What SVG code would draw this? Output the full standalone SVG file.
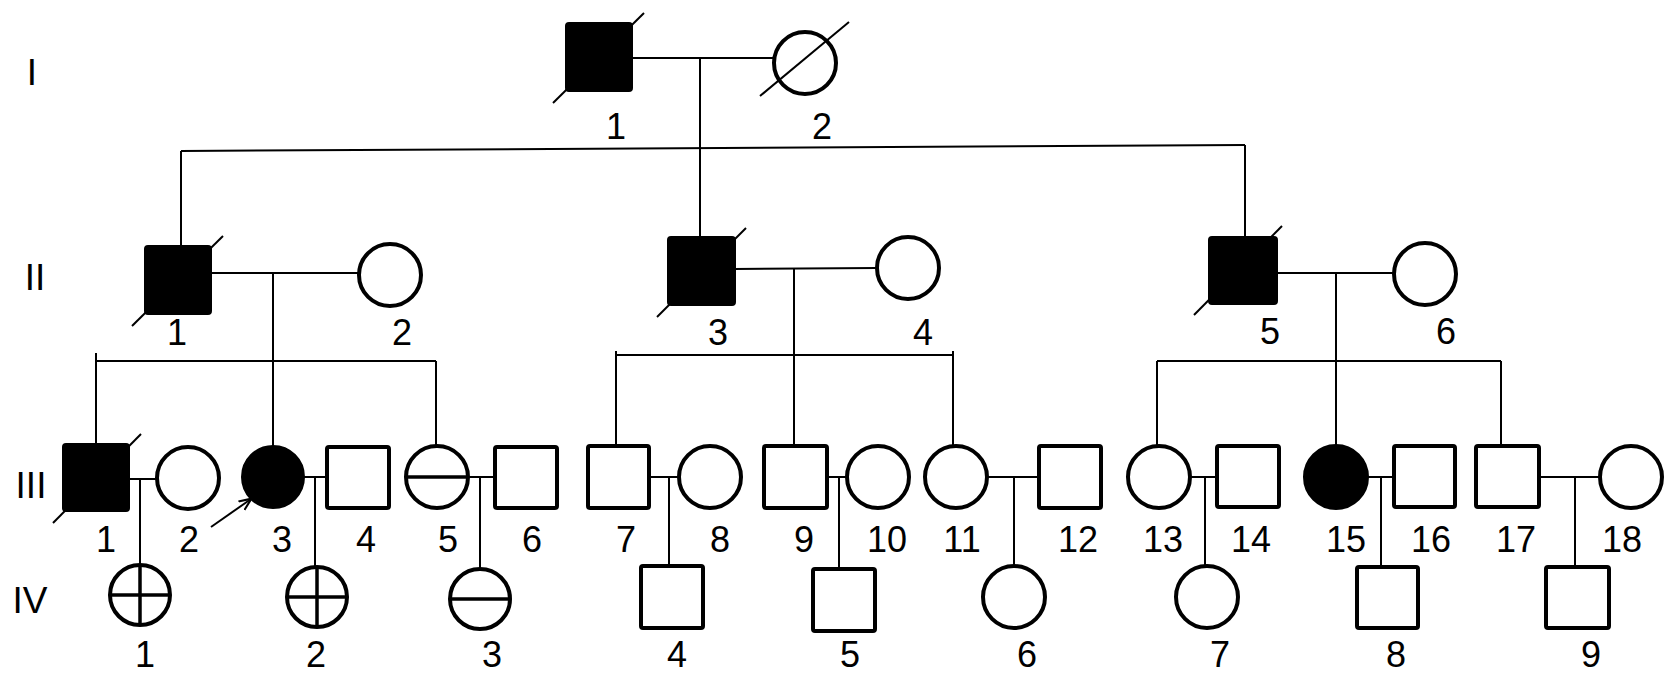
<svg xmlns="http://www.w3.org/2000/svg" width="1677" height="679" viewBox="0 0 1677 679">
<style>
.sym{fill:#fff;stroke:#000;stroke-width:4}
.aff{fill:#000;stroke:#000;stroke-width:4}
.ln{stroke:#000;stroke-width:2;fill:none}
.dead{stroke:#000;stroke-width:2}
.mk{stroke:#000;stroke-width:3.5}
.lbl{font-family:"Liberation Sans",Arial,sans-serif;font-size:36px;text-anchor:middle;fill:#000}
.gen{font-family:"Liberation Sans",Arial,sans-serif;font-size:37px;text-anchor:middle;fill:#000}
</style>
<defs>
<marker id="ah" viewBox="0 0 10 10" refX="9" refY="5" markerWidth="13" markerHeight="13" orient="auto" markerUnits="userSpaceOnUse">
<path d="M0,1 L9.5,5 L0,9" fill="none" stroke="#000" stroke-width="1.6"/>
</marker>
</defs>
<rect width="1677" height="679" fill="#fff"/>
<g id="generations">
<text class="gen" x="32" y="85">I</text>
<text class="gen" x="35" y="290">II</text>
<text class="gen" x="31" y="498">III</text>
<text class="gen" x="30" y="613">IV</text>
</g>
<g id="connectors">
<line class="ln" x1="631" y1="58" x2="774" y2="58"/>
<line class="ln" x1="700" y1="58" x2="700" y2="238"/>
<line class="ln" x1="181" y1="151" x2="1245" y2="145"/>
<line class="ln" x1="181" y1="151" x2="181" y2="247"/>
<line class="ln" x1="1245" y1="145" x2="1245" y2="238"/>
<line class="ln" x1="210" y1="273" x2="359" y2="273"/>
<line class="ln" x1="273" y1="273" x2="273" y2="446"/>
<line class="ln" x1="734" y1="269" x2="877" y2="268"/>
<line class="ln" x1="794" y1="269" x2="794" y2="446"/>
<line class="ln" x1="1276" y1="273" x2="1394" y2="273"/>
<line class="ln" x1="1336" y1="273" x2="1336" y2="446"/>
<line class="ln" x1="96" y1="361" x2="436" y2="361"/>
<line class="ln" x1="96" y1="353" x2="96" y2="445"/>
<line class="ln" x1="436" y1="361" x2="436" y2="447"/>
<line class="ln" x1="616" y1="355" x2="953" y2="355"/>
<line class="ln" x1="616" y1="351" x2="616" y2="446"/>
<line class="ln" x1="953" y1="351" x2="953" y2="446"/>
<line class="ln" x1="1157" y1="361" x2="1501" y2="361"/>
<line class="ln" x1="1157" y1="361" x2="1157" y2="446"/>
<line class="ln" x1="1501" y1="361" x2="1501" y2="446"/>
<line class="ln" x1="128" y1="479" x2="157" y2="479"/>
<line class="ln" x1="140" y1="479" x2="140" y2="565"/>
<line class="ln" x1="304" y1="477" x2="327" y2="477"/>
<line class="ln" x1="315" y1="477" x2="315" y2="567"/>
<line class="ln" x1="468" y1="477" x2="495" y2="477"/>
<line class="ln" x1="480" y1="477" x2="480" y2="569"/>
<line class="ln" x1="649" y1="477" x2="679" y2="477"/>
<line class="ln" x1="669" y1="477" x2="669" y2="566"/>
<line class="ln" x1="827" y1="477" x2="847" y2="477"/>
<line class="ln" x1="839" y1="477" x2="839" y2="569"/>
<line class="ln" x1="987" y1="477" x2="1039" y2="477"/>
<line class="ln" x1="1014" y1="477" x2="1014" y2="566"/>
<line class="ln" x1="1190" y1="477" x2="1217" y2="477"/>
<line class="ln" x1="1205" y1="477" x2="1205" y2="567"/>
<line class="ln" x1="1367" y1="477" x2="1394" y2="477"/>
<line class="ln" x1="1381" y1="477" x2="1381" y2="567"/>
<line class="ln" x1="1539" y1="477" x2="1600" y2="477"/>
<line class="ln" x1="1575" y1="477" x2="1575" y2="567"/>
<line class="ln" x1="211" y1="527" x2="251" y2="499" marker-end="url(#ah)"/>
</g>
<g id="I-1"><line class="dead" x1="553" y1="103" x2="644" y2="13"/><rect class="aff" x="567" y="24" width="64" height="66" rx="2"/><text class="lbl" x="616" y="139">1</text></g>
<g id="I-2"><circle class="sym" cx="805" cy="63" r="31"/><line class="dead" x1="760" y1="96" x2="849" y2="22"/><text class="lbl" x="822" y="139">2</text></g>
<g id="II-1"><line class="dead" x1="132" y1="326" x2="223" y2="236"/><rect class="aff" x="146" y="247" width="64" height="66" rx="2"/><text class="lbl" x="177" y="345">1</text></g>
<g id="II-2"><circle class="sym" cx="390" cy="275" r="31"/><text class="lbl" x="402" y="345">2</text></g>
<g id="II-3"><line class="dead" x1="657" y1="317" x2="746" y2="228"/><rect class="aff" x="669" y="238" width="65" height="66" rx="2"/><text class="lbl" x="718" y="345">3</text></g>
<g id="II-4"><circle class="sym" cx="908" cy="268" r="31"/><text class="lbl" x="923" y="345">4</text></g>
<g id="II-5"><line class="dead" x1="1194" y1="315" x2="1282" y2="226"/><rect class="aff" x="1210" y="238" width="66" height="65" rx="2"/><text class="lbl" x="1270" y="344">5</text></g>
<g id="II-6"><circle class="sym" cx="1425" cy="274" r="31"/><text class="lbl" x="1446" y="344">6</text></g>
<g id="III-1"><line class="dead" x1="53" y1="523" x2="141" y2="434"/><rect class="aff" x="64" y="445" width="64" height="65" rx="2"/><text class="lbl" x="106" y="552">1</text></g>
<g id="III-2"><circle class="sym" cx="188" cy="478" r="31"/><text class="lbl" x="189" y="552">2</text></g>
<g id="III-3"><circle class="aff" cx="273" cy="477" r="30"/><text class="lbl" x="282" y="552">3</text></g>
<g id="III-4"><rect class="sym" x="327" y="447" width="62" height="61" rx="2"/><text class="lbl" x="366" y="552">4</text></g>
<g id="III-5"><circle class="sym" cx="437" cy="477" r="31"/><line class="mk" x1="406" y1="477" x2="468" y2="477"/><text class="lbl" x="448" y="552">5</text></g>
<g id="III-6"><rect class="sym" x="495" y="447" width="62" height="61" rx="2"/><text class="lbl" x="532" y="552">6</text></g>
<g id="III-7"><rect class="sym" x="588" y="446" width="61" height="62" rx="2"/><text class="lbl" x="626" y="552">7</text></g>
<g id="III-8"><circle class="sym" cx="710" cy="477" r="31"/><text class="lbl" x="720" y="552">8</text></g>
<g id="III-9"><rect class="sym" x="764" y="446" width="63" height="62" rx="2"/><text class="lbl" x="804" y="552">9</text></g>
<g id="III-10"><circle class="sym" cx="878" cy="477" r="31"/><text class="lbl" x="887" y="552">10</text></g>
<g id="III-11"><circle class="sym" cx="956" cy="477" r="31"/><text class="lbl" x="962" y="552">11</text></g>
<g id="III-12"><rect class="sym" x="1039" y="446" width="62" height="62" rx="2"/><text class="lbl" x="1078" y="552">12</text></g>
<g id="III-13"><circle class="sym" cx="1159" cy="477" r="31"/><text class="lbl" x="1163" y="552">13</text></g>
<g id="III-14"><rect class="sym" x="1217" y="446" width="62" height="61" rx="2"/><text class="lbl" x="1251" y="552">14</text></g>
<g id="III-15"><circle class="aff" cx="1336" cy="477" r="31"/><text class="lbl" x="1346" y="552">15</text></g>
<g id="III-16"><rect class="sym" x="1394" y="446" width="61" height="61" rx="2"/><text class="lbl" x="1431" y="552">16</text></g>
<g id="III-17"><rect class="sym" x="1476" y="446" width="63" height="61" rx="2"/><text class="lbl" x="1516" y="552">17</text></g>
<g id="III-18"><circle class="sym" cx="1631" cy="477" r="31"/><text class="lbl" x="1622" y="552">18</text></g>
<g id="IV-1"><circle class="sym" cx="140" cy="595" r="30"/><line class="mk" x1="110" y1="595" x2="170" y2="595"/><line class="mk" x1="140" y1="565" x2="140" y2="625"/><text class="lbl" x="145" y="667">1</text></g>
<g id="IV-2"><circle class="sym" cx="317" cy="597" r="30"/><line class="mk" x1="287" y1="597" x2="347" y2="597"/><line class="mk" x1="317" y1="567" x2="317" y2="627"/><text class="lbl" x="316" y="667">2</text></g>
<g id="IV-3"><circle class="sym" cx="480" cy="599" r="30"/><line class="mk" x1="450" y1="599" x2="510" y2="599"/><text class="lbl" x="492" y="667">3</text></g>
<g id="IV-4"><rect class="sym" x="641" y="566" width="62" height="62" rx="2"/><text class="lbl" x="677" y="667">4</text></g>
<g id="IV-5"><rect class="sym" x="813" y="569" width="62" height="62" rx="2"/><text class="lbl" x="850" y="667">5</text></g>
<g id="IV-6"><circle class="sym" cx="1014" cy="597" r="31"/><text class="lbl" x="1027" y="667">6</text></g>
<g id="IV-7"><circle class="sym" cx="1207" cy="597" r="31"/><text class="lbl" x="1220" y="667">7</text></g>
<g id="IV-8"><rect class="sym" x="1357" y="567" width="61" height="61" rx="2"/><text class="lbl" x="1396" y="667">8</text></g>
<g id="IV-9"><rect class="sym" x="1546" y="567" width="63" height="61" rx="2"/><text class="lbl" x="1591" y="667">9</text></g>
</svg>
